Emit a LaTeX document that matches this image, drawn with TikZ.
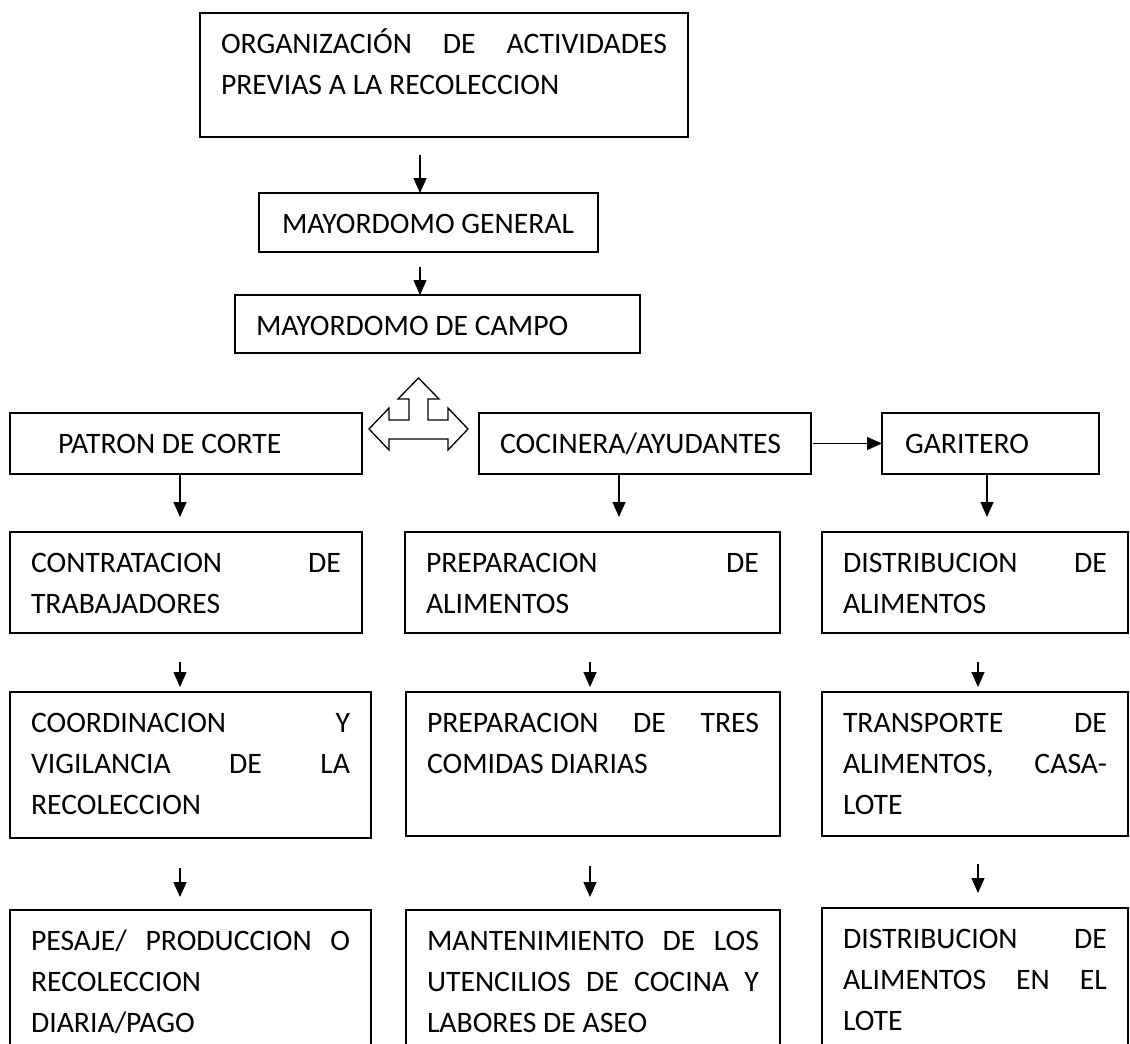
\documentclass[tikz,border=0pt]{standalone}
\usepackage{fontspec}
\setmainfont{Carlito}
\usetikzlibrary{arrows.meta}

% justified text block of fixed width and height, first baseline 40pt below the top
\newcommand\boxpar[3]{%
  \parbox[t][#2][t]{#1}{\fontsize{29.7pt}{41pt}\selectfont
    \hyphenpenalty=10000 \exhyphenpenalty=10000 \uchyph=0
    \rule{0pt}{40pt}#3}}

\tikzset{
  box/.style={draw, line width=1.6pt, anchor=north west,
    inner xsep=21pt, inner ysep=0pt, outer sep=0pt},
  arr/.style={-{Triangle[length=15pt,width=13pt]}, line width=1.3pt},
  blockarrow/.style={draw, fill=white, line width=1.3pt, line join=miter},
}

\begin{document}
\begin{tikzpicture}[x=1pt, y=-1pt]
\useasboundingbox (0,0) rectangle (1130,1044);
\clip (0,0) rectangle (1130,1044);

% column positions of the vertical arrows
\coordinate (xtop) at (420,0);
\coordinate (xl)   at (180,0);
\coordinate (xm1)  at (619,0);
\coordinate (xm)   at (590,0);
\coordinate (xr1)  at (987,0);
\coordinate (xr)   at (978,0);

% header chain
\node[box] (org) at (200,13)
  {\boxpar{446pt}{124pt}{ORGANIZACIÓN DE ACTIVIDADES\linebreak PREVIAS A LA RECOLECCION}};
\node[box] (mg) at (259,193)
  {\boxpar{297pt}{59pt}{\hspace*{2pt}MAYORDOMO GENERAL}};
\node[box] (mc) at (235,295)
  {\boxpar{363pt}{58pt}{MAYORDOMO DE CAMPO}};

% three roles
\node[box] (pat) at (10,413)
  {\boxpar{310pt}{61pt}{\hspace*{27pt}PATRON DE CORTE}};
\node[box] (coc) at (479,413)
  {\boxpar{290pt}{61pt}{COCINERA/AYUDANTES}};
\node[box] (gar) at (882,413)
  {\boxpar{175pt}{61pt}{\hspace*{2pt}GARITERO}};

% second row
\node[box] (l2) at (10,532)
  {\boxpar{310pt}{101pt}{CONTRATACION DE\linebreak TRABAJADORES}};
\node[box] (m2) at (405,532)
  {\boxpar{333pt}{101pt}{PREPARACION DE\linebreak ALIMENTOS}};
\node[box] (r2) at (822,532)
  {\boxpar{264pt}{101pt}{DISTRIBUCION DE\linebreak ALIMENTOS}};

% third row
\node[box] (l3) at (10,692)
  {\boxpar{319pt}{146pt}{COORDINACION Y\linebreak VIGILANCIA DE LA\linebreak RECOLECCION}};
\node[box] (m3) at (406,692)
  {\boxpar{332pt}{144pt}{PREPARACION DE TRES\linebreak COMIDAS DIARIAS}};
\node[box] (r3) at (822,692)
  {\boxpar{264pt}{144pt}{TRANSPORTE DE\linebreak ALIMENTOS, CASA-\linebreak LOTE}};

% fourth row
\node[box] (l4) at (10,910)
  {\boxpar{319pt}{200pt}{PESAJE/ PRODUCCION O\linebreak RECOLECCION\newline DIARIA/PAGO}};
\node[box] (m4) at (406,910)
  {\boxpar{332pt}{200pt}{MANTENIMIENTO DE LOS\linebreak UTENCILIOS DE COCINA Y\linebreak LABORES DE ASEO}};
\node[box] (r4) at (822,908)
  {\boxpar{264pt}{200pt}{DISTRIBUCION DE\linebreak ALIMENTOS EN EL\linebreak LOTE}};

% header arrows
\draw[arr, shorten <=18pt] (xtop |- org.south) -- (xtop |- mg.north);
\draw[arr, shorten <=15pt] (xtop |- mg.south) -- (xtop |- mc.north);

% three-way block arrow below the field steward
\draw[blockarrow] (369,429) -- (389,408) -- (389,420) -- (409,420) -- (409,399)
  -- (398,399) -- (418.5,378) -- (439,399) -- (428,399) -- (428,420)
  -- (448,420) -- (448,408) -- (468,429) -- (448,450) -- (448,439)
  -- (389,439) -- (389,450) -- cycle;

% cook to food runner
\draw[arr, shorten <=2pt] (coc.east) -- (gar.west);

% roles to second row
\draw[arr, shorten >=15pt] (xl |- pat.south) -- (xl |- l2.north);
\draw[arr, shorten >=15pt] (xm1 |- coc.south) -- (xm1 |- m2.north);
\draw[arr, shorten >=15pt] (xr1 |- gar.south) -- (xr1 |- r2.north);

% second row to third row
\draw[arr, shorten <=29pt, shorten >=5pt] (xl |- l2.south) -- (xl |- l3.north);
\draw[arr, shorten <=29pt, shorten >=5pt] (xm |- m2.south) -- (xm |- m3.north);
\draw[arr, shorten <=29pt, shorten >=5pt] (xr |- r2.south) -- (xr |- r3.north);

% third row to fourth row
\draw[arr, shorten <=30pt, shorten >=13pt] (xl |- l3.south) -- (xl |- l4.north);
\draw[arr, shorten <=30pt, shorten >=13pt] (xm |- m3.south) -- (xm |- m4.north);
\draw[arr, shorten <=28pt, shorten >=15pt] (xr |- r3.south) -- (xr |- r4.north);
\end{tikzpicture}
\end{document}
